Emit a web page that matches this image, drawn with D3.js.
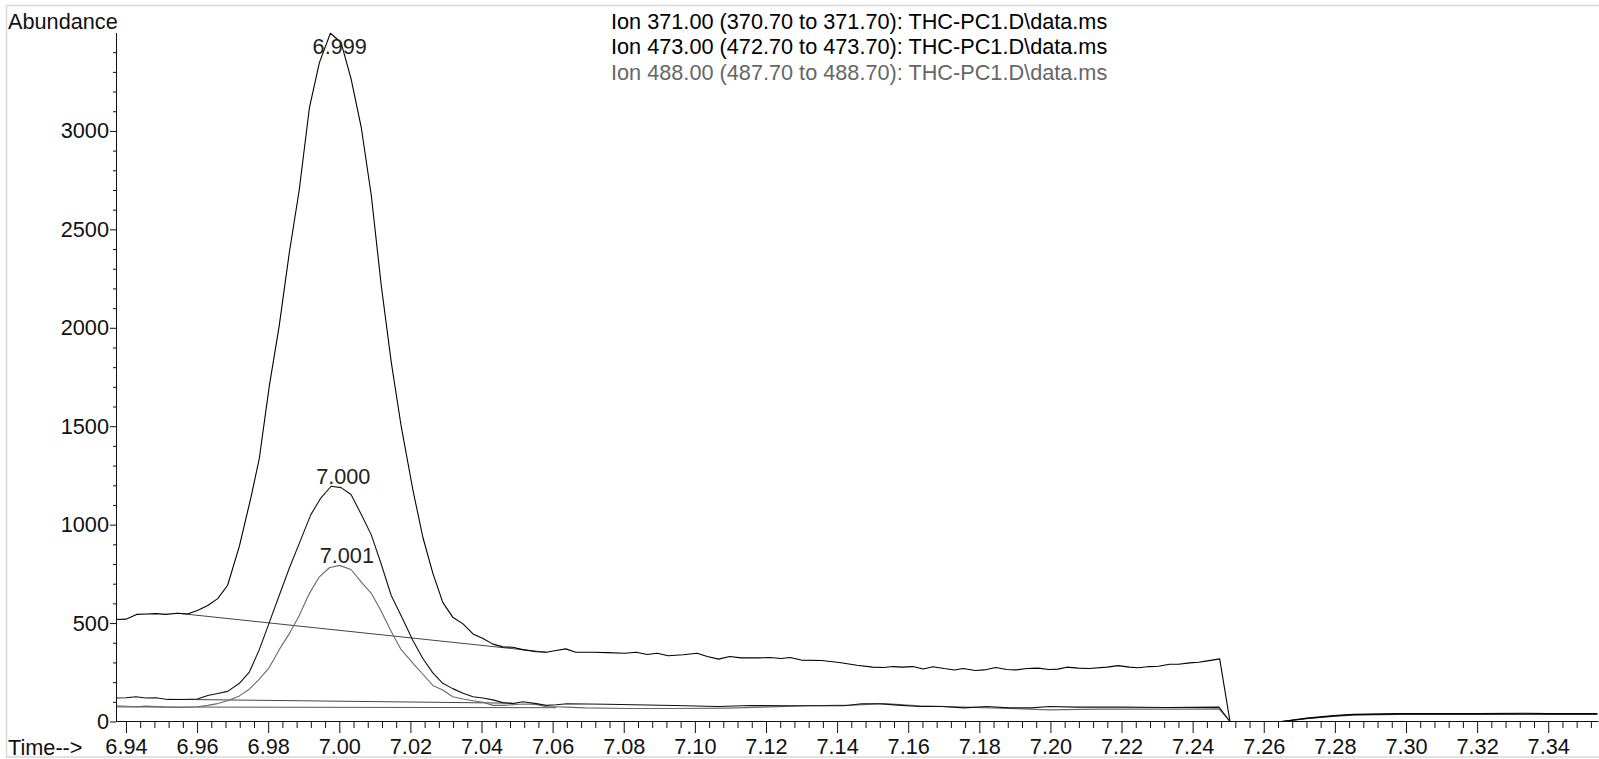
<!DOCTYPE html>
<html><head><meta charset="utf-8">
<script src="https://cdn.jsdelivr.net/npm/d3@7"></script>
<style>html,body{margin:0;padding:0;background:#fff;overflow:hidden}
svg{display:block;font-family:"Liberation Sans",Arial,sans-serif}</style>
</head><body><svg id="c" width="1599" height="759"></svg>
<script>
// ---- data ----
const timesA=[6.9372,6.9400,6.9430,6.9457,6.9484,6.9513,6.9545,6.9573,6.9601,6.9630,6.9658,6.9686,6.9719,6.9752,6.9775,6.9803,6.9831,6.9859,6.9887,6.9916,6.9944,6.9975,7.0005,7.0033,7.0062,7.0090,7.0118,7.0146,7.0174,7.0207,7.0235,7.0263,7.0291,7.0319,7.0348,7.0376,7.0404,7.0432,7.0460,7.0488,7.0516,7.0554,7.0582,7.0610,7.0637,7.0665,7.0715,7.0753,7.0803,7.0835,7.0866,7.0894,7.0925,7.0967,7.1006,7.1035,7.1067,7.1098,7.1130,7.1180,7.1211,7.1243,7.1268,7.1299,7.1356,7.1406,7.1456,7.1500,7.1532,7.1557,7.1584,7.1613,7.1642,7.1670,7.1701,7.1730,7.1755,7.1789,7.1814,7.1846,7.1877,7.1902,7.1934,7.1965,7.1996,7.2021,7.2046,7.2078,7.2109,7.2159,7.2191,7.2222,7.2247,7.2279,7.2304,7.2335,7.2360,7.2392,7.2417,7.2442,7.2476,7.2505,7.2651,7.2721,7.2796,7.2852,7.2984,7.3200,7.3340,7.3400,7.3538];
const ion371=[518,520,544,546,548,544,550,546,564,589,624,692,891,1142,1336,1702,2010,2376,2696,3118,3347,3496,3449,3266,3015,2672,2215,1827,1500,1176,936,754,605,530,496,445,422,393,379,377,365,354,352,361,369,352,352,350,347,352,340,347,334,339,347,330,317,330,323,323,325,320,325,312,310,300,286,276,274,279,276,279,267,278,269,262,269,259,262,274,264,262,269,271,264,266,276,271,269,276,284,276,273,279,281,291,291,298,301,308,318,0,0,17,30,36,40,40,42,40,40];

const timesB=[6.9372,6.9400,6.9428,6.9456,6.9484,6.9517,6.9559,6.9601,6.9630,6.9658,6.9686,6.9719,6.9747,6.9775,6.9803,6.9831,6.9859,6.9892,6.9920,6.9948,6.9977,7.0005,7.0033,7.0062,7.0090,7.0118,7.0146,7.0174,7.0207,7.0235,7.0263,7.0291,7.0319,7.0348,7.0376,7.0404,7.0432,7.0460,7.0488,7.0516,7.0554,7.0582,7.0610,7.0640,7.0753,7.0942,7.1067,7.1155,7.1268,7.1419,7.1469,7.1519,7.1570,7.1632,7.1695,7.1758,7.1821,7.1884,7.1947,7.1997,7.2072,7.2198,7.2324,7.2474,7.2505,7.2651,7.2721,7.2796,7.2852,7.2984,7.3538];
const ion473=[119,121,126,119,121,112,112,114,132,142,153,194,251,365,502,640,777,925,1051,1135,1195,1188,1153,1051,948,799,640,537,411,320,247,194,167,144,126,119,110,96,91,100,91,82,85,90,88,81,76,81,80,80,90,90,83,76,76,69,76,69,69,76,73,73,71,73,0,0,15,28,34,38,38];

const timesC=[6.9372,6.9428,6.9456,6.9512,6.9559,6.9601,6.9630,6.9658,6.9686,6.9719,6.9747,6.9775,6.9803,6.9831,6.9859,6.9887,6.9916,6.9944,6.9972,7.0000,7.0033,7.0062,7.0090,7.0118,7.0146,7.0174,7.0207,7.0235,7.0263,7.0291,7.0319,7.0348,7.0376,7.0404,7.0432,7.0460,7.0488,7.0516,7.0554,7.0582,7.0610,7.0640,7.0691,7.0816,7.0942,7.1093,7.1193,7.1318,7.1444,7.1532,7.1632,7.1758,7.1884,7.1997,7.2135,7.2261,7.2386,7.2474,7.2505,7.2651,7.2721,7.2796,7.2852,7.2984,7.3538];
const ion488=[80,75,78,73,71,75,82,91,105,130,164,215,274,365,445,537,651,735,781,793,772,708,651,560,457,365,297,240,183,160,126,114,105,98,82,82,85,89,87,75,75,73,69,66,66,68,73,80,83,91,80,73,66,59,63,63,63,64,0,0,14,26,32,36,36];

// integration baselines [start time, start value, end time, end value]
const baseline371=[6.9545,550,7.0582,352];
const baseline473=[6.9517,113,7.0488,93];
const baseline488=[6.9372,74,7.0610,70];

// peak labels
const peakRT=[6.999,7.000,7.001];
const peakApex=[3496,1195,793];
const peakText=["6.999","7.000","7.001"];

// axes
const xMajorTicks=[6.94,6.96,6.98,7.00,7.02,7.04,7.06,7.08,7.10,7.12,7.14,7.16,7.18,7.20,7.22,7.24,7.26,7.28,7.30,7.32,7.34];
const yMajorTicks=[0,500,1000,1500,2000,2500,3000];
const legendLabels=["Ion 371.00 (370.70 to 371.70): THC-PC1.D\\data.ms","Ion 473.00 (472.70 to 473.70): THC-PC1.D\\data.ms","Ion 488.00 (487.70 to 488.70): THC-PC1.D\\data.ms"];

// ---- drawing ----
const svg=d3.select("#c");
const FS="21.7px";
const x=d3.scaleLinear().domain([6.9372,7.354]).range([116,1598]);
const y=d3.scaleLinear().domain([0,3500]).range([721.5,32.5]);

// frame
svg.append("rect").attr("x",6.5).attr("y",5.5).attr("width",1600).attr("height",751.5)
  .attr("fill","none").attr("stroke","#d8d8d8").attr("stroke-width",1.5);

svg.append("clipPath").attr("id","pc").append("rect").attr("x",116).attr("y",0).attr("width",1483).attr("height",725);

const plot=svg.append("g").attr("clip-path","url(#pc)");
const line=d3.line().x(d=>x(d[0])).y(d=>y(d[1]));

function drawBase(b,col){
  plot.append("path").attr("d",line([[b[0],b[1]],[b[2],b[3]]])).attr("fill","none")
    .attr("stroke",col).attr("stroke-width",1);
}
drawBase(baseline371,"#444");
drawBase(baseline473,"#444");
drawBase(baseline488,"#555");

const series=[
  {t:timesC,v:ion488,c:"#6a6a6a"},
  {t:timesB,v:ion473,c:"#111"},
  {t:timesA,v:ion371,c:"#000"}
];
series.forEach(s=>{
  plot.append("path").attr("d",line(s.t.map((t,i)=>[t,s.v[i]])))
    .attr("fill","none").attr("stroke",s.c).attr("stroke-width",1.1).attr("stroke-linejoin","round");
});

// axes
const minorX=d3.range(6.94,7.354,0.004).filter(v=>Math.abs(Math.round(v*50)-v*50)>0.01);
const gxMinor=svg.append("g").attr("transform",`translate(0,${y(0)-0.5})`)
  .call(d3.axisBottom(x).tickValues(minorX).tickSize(7).tickSizeOuter(0).tickFormat(""));
gxMinor.select(".domain").remove();
const gx=svg.append("g").attr("transform",`translate(0,${y(0)-0.5})`)
  .call(d3.axisBottom(x).tickValues(xMajorTicks).tickSize(12).tickSizeOuter(0).tickFormat(d3.format(".2f")));
gx.selectAll("text").attr("y",33).attr("dy",null).attr("font-size",FS).attr("font-family",null).attr("fill","#111");

const minorY=d3.range(100,3500,100).filter(v=>v%500!==0);
const gyMinor=svg.append("g").attr("transform","translate(116,0)")
  .call(d3.axisLeft(y).tickValues(minorY).tickSize(3).tickSizeOuter(0).tickFormat(""));
gyMinor.select(".domain").remove();
const gy=svg.append("g").attr("transform","translate(116,0)")
  .call(d3.axisLeft(y).tickValues(yMajorTicks).tickSize(6).tickSizeOuter(0).tickPadding(1).tickFormat(d3.format("d")));
gy.selectAll("text").attr("font-size",FS).attr("font-family",null).attr("fill","#111");
svg.selectAll(".domain, .tick line").attr("stroke","#111");

// axis titles
svg.append("text").attr("x",8).attr("y",28.5).attr("font-size",FS).attr("fill","#111").text("Abundance");
svg.append("text").attr("x",8).attr("y",754.5).attr("font-size",FS).attr("fill","#111").text("Time-->");

// legend
const legCol=["#000","#000","#666"];
legendLabels.forEach((l,i)=>{
  svg.append("text").attr("x",611).attr("y",28.5+25.5*i).attr("font-size",FS).attr("fill",legCol[i]).text(l);
});

// peak labels
peakRT.forEach((rt,i)=>{
  svg.append("text").attr("x",x(rt)+4).attr("y",Math.max(y(peakApex[i])-2,54))
    .attr("text-anchor","middle").attr("font-size",FS).attr("fill","#222").text(peakText[i]);
});
</script></body></html>
